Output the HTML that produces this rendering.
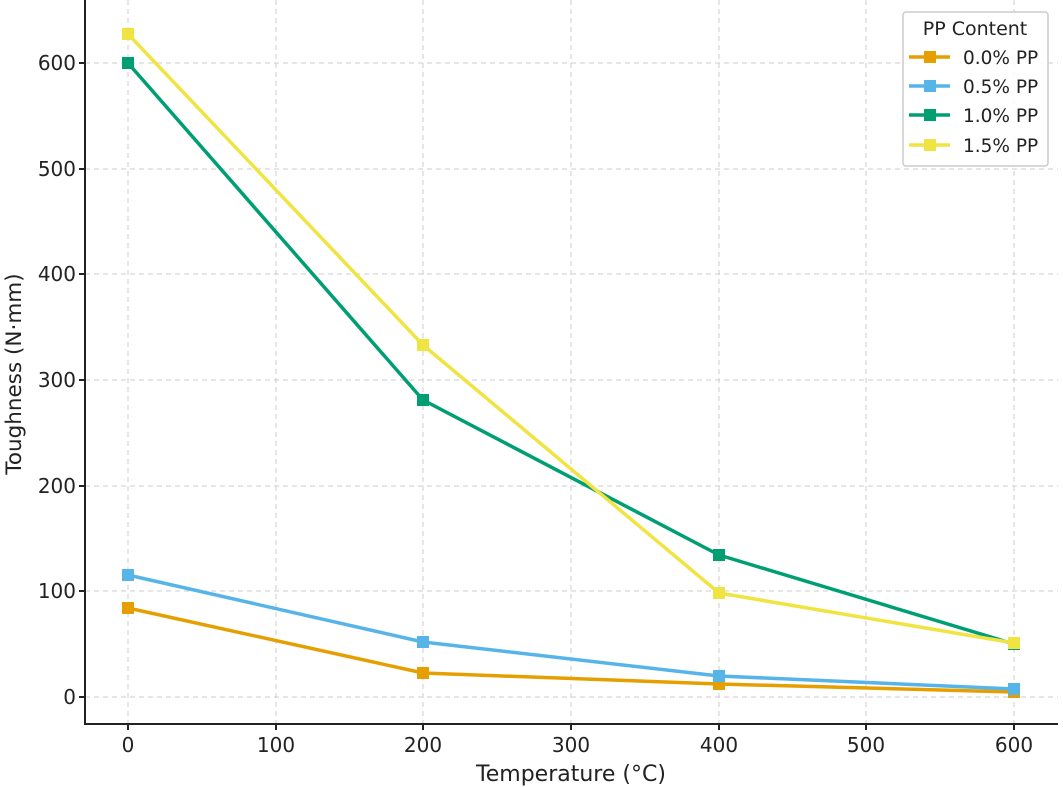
<!DOCTYPE html>
<html><head><meta charset="utf-8"><style>body{margin:0;background:#fff}svg{display:block}text{font-family:"DejaVu Sans","Liberation Sans",sans-serif;fill:#222}</style></head><body>
<svg width="1063" height="787" xmlns="http://www.w3.org/2000/svg">
<g stroke="#ccc" stroke-width="1" stroke-dasharray="5,4">
<line x1="128" y1="0" x2="128" y2="723"/><line x1="276" y1="0" x2="276" y2="723"/><line x1="423" y1="0" x2="423" y2="723"/><line x1="571" y1="0" x2="571" y2="723"/><line x1="719" y1="0" x2="719" y2="723"/><line x1="866" y1="0" x2="866" y2="723"/><line x1="1014" y1="0" x2="1014" y2="723"/>
<line x1="85" y1="697" x2="1058" y2="697"/><line x1="85" y1="591" x2="1058" y2="591"/><line x1="85" y1="486" x2="1058" y2="486"/><line x1="85" y1="380" x2="1058" y2="380"/><line x1="85" y1="274" x2="1058" y2="274"/><line x1="85" y1="169" x2="1058" y2="169"/><line x1="85" y1="63" x2="1058" y2="63"/>
</g>
<g stroke="#222" stroke-width="2" fill="none">
<line x1="85" y1="0" x2="85" y2="724"/><line x1="84" y1="724" x2="1058" y2="724"/>
<path d="M85 697h-6M85 591h-6M85 486h-6M85 380h-6M85 274h-6M85 169h-6M85 63h-6M128 724v6M276 724v6M423 724v6M571 724v6M719 724v6M866 724v6M1014 724v6"/>
</g>
<g font-size="20" text-anchor="end">
<text x="76" y="704">0</text><text x="76" y="598">100</text><text x="76" y="493">200</text><text x="76" y="387">300</text><text x="76" y="281">400</text><text x="76" y="176">500</text><text x="76" y="70">600</text>
</g>
<g font-size="20" text-anchor="middle">
<text x="128" y="752">0</text><text x="276" y="752">100</text><text x="423" y="752">200</text><text x="571" y="752">300</text><text x="719" y="752">400</text><text x="866" y="752">500</text><text x="1014" y="752">600</text>
</g>
<text x="571" y="781" font-size="22" text-anchor="middle">Temperature (°C)</text>
<text transform="translate(21,374) rotate(-90)" font-size="21.5" text-anchor="middle">Toughness (N·mm)</text>
<g stroke-width="3.5" fill="none" stroke-linejoin="round">
<polyline stroke="#E69F00" points="128,608 423,673 719,684 1014,692"/>
<polyline stroke="#56B4E9" points="128,575 423,642 719,676 1014,689"/>
<polyline stroke="#009E73" points="128,63 423,400 719,555 1014,644"/>
<polyline stroke="#F0E442" points="128,34 423,345 719,593 1014,643"/>
</g>
<g>
<g fill="#E69F00"><rect x="122" y="602" width="12" height="12"/><rect x="417" y="667" width="12" height="12"/><rect x="713" y="678" width="12" height="12"/><rect x="1008" y="686" width="12" height="12"/></g>
<g fill="#56B4E9"><rect x="122" y="569" width="12" height="12"/><rect x="417" y="636" width="12" height="12"/><rect x="713" y="670" width="12" height="12"/><rect x="1008" y="683" width="12" height="12"/></g>
<g fill="#009E73"><rect x="122" y="57" width="12" height="12"/><rect x="417" y="394" width="12" height="12"/><rect x="713" y="549" width="12" height="12"/><rect x="1008" y="638" width="12" height="12"/></g>
<g fill="#F0E442"><rect x="122" y="28" width="12" height="12"/><rect x="417" y="339" width="12" height="12"/><rect x="713" y="587" width="12" height="12"/><rect x="1008" y="637" width="12" height="12"/></g>
</g>
<rect x="903" y="12" width="145" height="154" rx="3" fill="#fff" fill-opacity="0.9" stroke="#ccc" stroke-width="1.5"/>
<text x="975" y="35" font-size="19" text-anchor="middle">PP Content</text>
<g stroke-width="3.5">
<line x1="909" y1="57" x2="950" y2="57" stroke="#E69F00"/><line x1="909" y1="86" x2="950" y2="86" stroke="#56B4E9"/><line x1="909" y1="115" x2="950" y2="115" stroke="#009E73"/><line x1="909" y1="145" x2="950" y2="145" stroke="#F0E442"/>
</g>
<rect x="924" y="51" width="12" height="12" fill="#E69F00"/><rect x="924" y="80" width="12" height="12" fill="#56B4E9"/><rect x="924" y="109" width="12" height="12" fill="#009E73"/><rect x="924" y="139" width="12" height="12" fill="#F0E442"/>
<g font-size="18.5">
<text x="963" y="64">0.0% PP</text><text x="963" y="93">0.5% PP</text><text x="963" y="122">1.0% PP</text><text x="963" y="152">1.5% PP</text>
</g>
</svg>
</body></html>
